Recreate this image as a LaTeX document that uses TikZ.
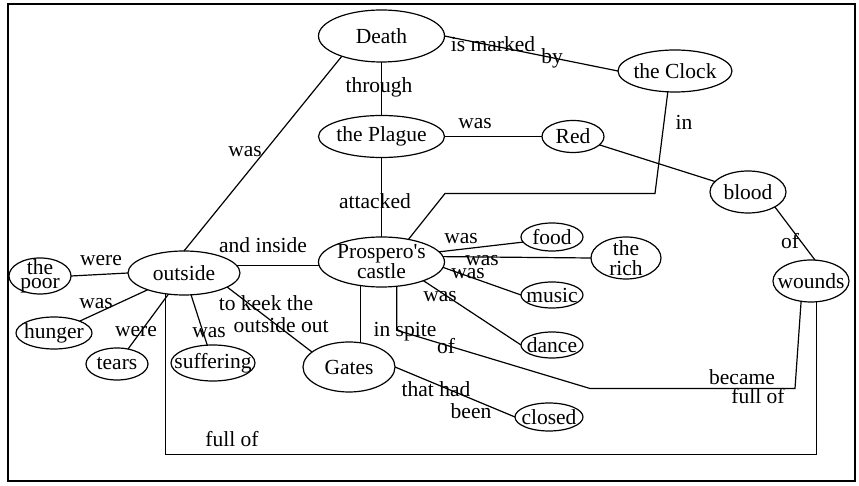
\documentclass[tikz,border=0pt]{standalone}
\usepackage{fontspec}
\setmainfont{Liberation Serif}
\usetikzlibrary{shapes.geometric}

\begin{document}
\begin{tikzpicture}[x=0.5pt,y=-0.5pt,line width=0.6pt,font=\fontsize{10.75}{10}\selectfont,
    concept/.style={draw,ellipse,inner sep=-5pt,outer sep=0pt,align=center},
    rel/.style={inner sep=0pt,align=center}]
      \useasboundingbox (0,0) rectangle (859,486);
      \draw[line width=1pt] (7.5,4.5) rectangle (855,481);
      \node[concept,minimum width=63pt,minimum height=26pt] (death) at (381.5,36) {Death};
      \node[concept,minimum width=63pt,minimum height=21pt] (plague) at (381.5,136.5) {the Plague};
      \node[concept,minimum width=63pt,minimum height=25pt] (castle) at (381.5,262) {Prospero\textquotesingle s\\castle};
      \node[concept,minimum width=57pt,minimum height=21pt] (clock) at (675,71) {the Clock};
      \node[concept,minimum width=31pt,minimum height=16pt] (red) at (573,136.5) {Red};
      \node[concept,minimum width=38pt,minimum height=21pt] (blood) at (748,192) {blood};
      \node[concept,minimum width=38pt,minimum height=21pt] (wounds) at (811,281) {wounds};
      \node[concept,minimum width=31pt,minimum height=14pt] (food) at (552,237) {food};
      \node[concept,minimum width=35pt,minimum height=21pt] (rich) at (626,258) {the\\rich};
      \node[concept,minimum width=31pt,minimum height=13pt] (music) at (552,295) {music};
      \node[concept,minimum width=31pt,minimum height=13pt] (dance) at (552,345) {dance};
      \node[concept,minimum width=46pt,minimum height=25pt] (gates) at (349,367) {Gates};
      \node[concept,minimum width=34pt,minimum height=14pt] (closed) at (549,417) {closed};
      \node[concept,minimum width=56pt,minimum height=22pt] (outside) at (184,273) {outside};
      \node[concept,minimum width=31pt,minimum height=18pt,font=\fontsize{10.75}{7}\selectfont] (poor) at (40,276) {the\\poor};
      \node[concept,minimum width=38pt,minimum height=16pt] (hunger) at (54,333) {hunger};
      \node[concept,minimum width=31pt,minimum height=16pt] (tears) at (117,364) {tears};
      \node[concept,minimum width=42pt,minimum height=18pt] (suffering) at (213,363) {suffering};
      \coordinate (bottomrun) at (0,454.5);
      \draw (death) -- (plague);
      \draw (death.207) -- (outside.north);
      \draw (death.east) -- (clock.west);
      \draw (plague.east) -- (red.west);
      \draw (plague) -- (castle);
      \draw (red) -- (blood);
      \draw (blood.-29) -- (wounds.79);
      \draw (clock.251) -- (655,193.5) -- (445,193.5) -- (castle.40);
      \draw (outside.8) -- (castle.west |- outside.8);
      \draw (outside.west) -- (poor.east);
      \draw (outside) -- (hunger);
      \draw (outside) -- (tears);
      \draw (outside) -- (suffering);
      \draw (outside.-18) -- (gates.158);
      \draw (outside.228) |- (wounds.284 |- bottomrun) -- (wounds.284);
      \draw (castle.228) -- (castle.228 |- gates.north);
      \draw (castle.-58) -- ++(0,44) -- (590,388.5) -- (795,388.5) -- (wounds.244);
      \draw (castle.10) -- (food.190);
      \draw (castle.5) -- (rich.west);
      \draw (castle.-5) -- (music.west);
      \draw (castle.-24) -- (dance.west);
      \draw (gates.east) -- (closed.west);
      \node[rel] (through) at (379,87) {through};
      \node[rel] (wasdeath) at (245,152) {was};
      \node[rel] (attacked) at (375,201) {attacked};
      \node[rel] (ismarked) at (493,44) {is marked};
      \node[rel] (by) at (552,58) {by};
      \node[rel] (wasred) at (475,124) {was};
      \node[rel] (in) at (684,122) {in};
      \node[rel] (ofblood) at (790,241) {of};
      \node[rel] (andinside) at (263,245) {and inside};
      \node[rel] (werepoor) at (101,261) {were};
      \node[rel] (washunger) at (96,304) {was};
      \node[rel] (weretears) at (136,332) {were};
      \node[rel] (wassuffering) at (209,333) {was};
      \node[rel] (tokeek) at (266,303) {to keek the};
      \node[rel] (outsideout) at (281,325) {outside out};
      \node[rel] (inspite) at (405,332) {in spite};
      \node[rel] (ofspite) at (446,346) {of};
      \node[rel] (wasfood) at (461,239) {was};
      \node[rel] (wasrich) at (482,261) {was};
      \node[rel] (wasmusic) at (468,274) {was};
      \node[rel] (wasdance) at (440,297) {was};
      \node[rel] (thathad) at (436,389) {that had};
      \node[rel] (been) at (471,411) {been};
      \node[rel] (became) at (742,377) {became};
      \node[rel] (fullofwounds) at (758,396) {full of};
      \node[rel] (fullof) at (232,439) {full of};
    \end{tikzpicture}
\end{document}
